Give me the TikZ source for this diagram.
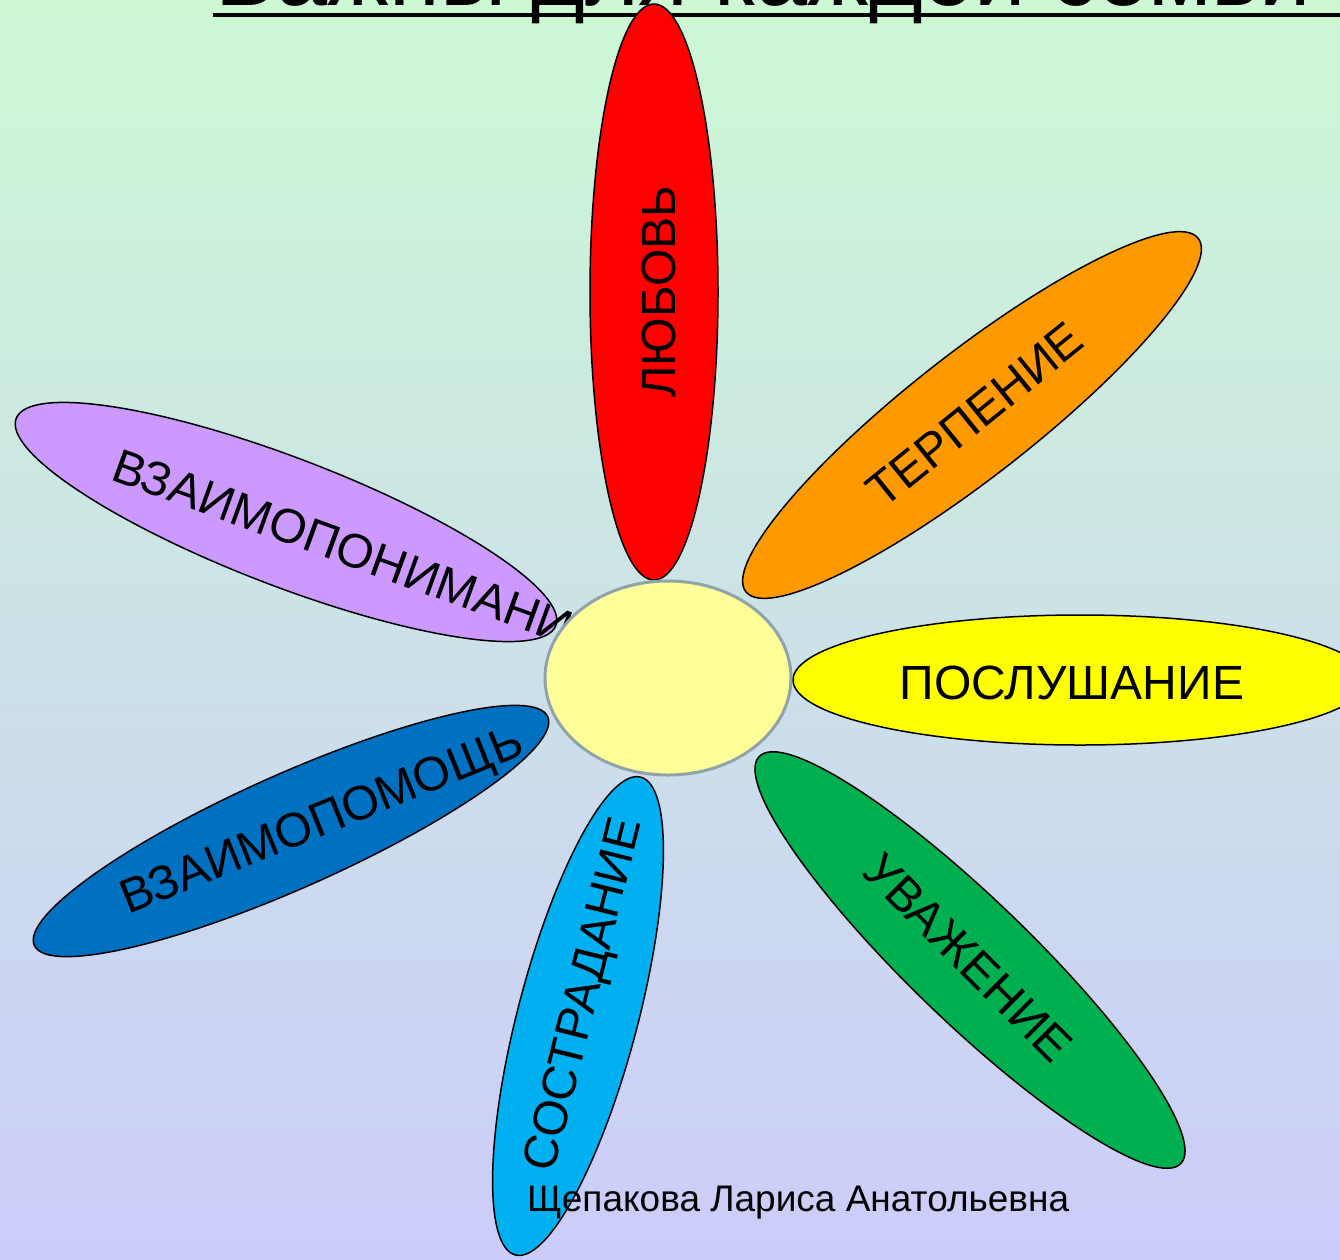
\documentclass[tikz,border=0pt]{standalone}
\usepackage{fontspec}
\setmainfont{Liberation Sans}
\definecolor{bgtop}{RGB}{204,248,212}
\definecolor{bgbot}{RGB}{204,204,250}
\definecolor{pred}{RGB}{255,0,0}
\definecolor{porange}{RGB}{255,153,0}
\definecolor{pyellow}{RGB}{255,255,0}
\definecolor{pgreen}{RGB}{0,176,80}
\definecolor{pcyan}{RGB}{0,176,240}
\definecolor{pblue}{RGB}{0,112,192}
\definecolor{ppurple}{RGB}{204,153,255}
\definecolor{cfill}{RGB}{255,255,153}
\definecolor{cedge}{RGB}{143,163,168}
\begin{document}
\begin{tikzpicture}[x=1pt,y=-1pt,
  petal/.style={draw=black, line width=1.5pt},
  lbl/.style={font=\fontsize{48}{50}\selectfont, inner sep=0pt, text=black}]
\useasboundingbox (0,0) rectangle (1340,1259);
\clip (0,0) rectangle (1340,1259);
\shade[top color=bgtop, bottom color=bgbot] (0,0) rectangle (1340,1259);
% title (cut off at the top)
\node[anchor=base west, inner sep=0pt, font=\fontsize{92}{96}\selectfont] (title) at (215,5) {Важны для каждой семьи};
\coordinate (ulA) at (213,13);
\coordinate (ulB) at (1340,17);
\fill[black] (ulA) rectangle (ulB);
% petals
\draw[petal, fill=pred] (654,292) ellipse [x radius=64pt, y radius=288pt];
\draw[petal, fill=porange, rotate around={38:(972,415)}] (972,415) ellipse [x radius=287pt, y radius=62pt];
\draw[petal, fill=pyellow] (1080,680) ellipse [x radius=287pt, y radius=65pt];
\draw[petal, fill=pgreen, rotate around={-44:(970,960)}] (970,960) ellipse [x radius=293pt, y radius=61pt];
\draw[petal, fill=pcyan, rotate around={75.3:(578,1016)}] (578,1016) ellipse [x radius=247pt, y radius=60pt];
\draw[petal, fill=pblue, rotate around={24:(291,831)}] (291,831) ellipse [x radius=281pt, y radius=57pt];
\draw[petal, fill=ppurple, rotate around={-21:(286,522)}] (286,522) ellipse [x radius=289pt, y radius=64pt];
% labels
\node[lbl, rotate=90] (love) at (659,292) {ЛЮБОВЬ};
\node[lbl, rotate=39] (patience) at (975,415) {ТЕРПЕНИЕ};
\node[lbl] (obedience) at (1072,683) {ПОСЛУШАНИЕ};
\node[lbl, rotate=-45] (respect) at (968,958) {УВАЖЕНИЕ};
\node[lbl, rotate=76] (compassion) at (586,995) {СОСТРАДАНИЕ};
\node[lbl, rotate=22] (help) at (323,823) {ВЗАИМОПОМОЩЬ};
\node[lbl, rotate=-20, anchor=base west] (understanding) at (109,479) {ВЗАИМОПОНИМАНИЕ};
% author
\node[anchor=base west, inner sep=0pt, font=\fontsize{37}{40}\selectfont] (author) at (527,1211) {Щепакова Лариса Анатольевна};
% centre
\draw[draw=cedge, line width=3pt, fill=cfill] (668,678) ellipse [x radius=123pt, y radius=97pt];
\end{tikzpicture}
\end{document}
